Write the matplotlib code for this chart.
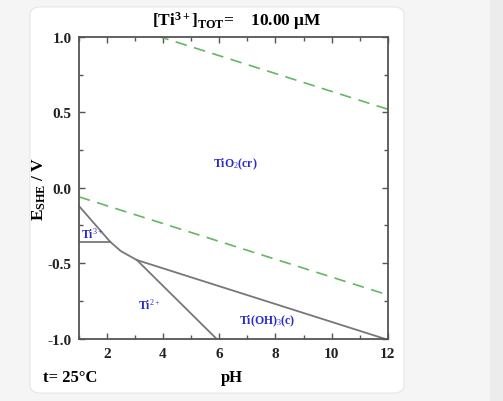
import matplotlib
matplotlib.use("Agg")
import matplotlib.pyplot as plt
from matplotlib.patches import FancyBboxPatch, Rectangle
import numpy as np

plt.rcParams['font.family'] = ['Liberation Serif', 'DejaVu Serif']
plt.rcParams['mathtext.fontset'] = 'custom'
plt.rcParams['mathtext.rm'] = 'Liberation Serif'
plt.rcParams['mathtext.it'] = 'Liberation Serif:italic'
plt.rcParams['mathtext.bf'] = 'Liberation Serif:bold'

# boundary lines (pH, E in V)
ti3_ti2_ph = [1.0, 2.12]
ti3_ti2_e = [-0.358, -0.358]
tio2_ti3_ph = [1.0, 2.12]
tio2_ti3_e = [-0.119, -0.358]
tio2_ti2_ph = [2.12, 2.5, 3.07]
tio2_ti2_e = [-0.358, -0.42, -0.479]
ti2_tioh3_ph = [3.07, 5.9]
ti2_tioh3_e = [-0.479, -1.0]
tio2_tioh3_ph = [3.07, 11.88]
tio2_tioh3_e = [-0.479, -1.0]

# water stability lines
o2_ph = [3.8, 12.0]
o2_e = [1.005, 0.52]
h2_ph = [1.0, 12.0]
h2_e = [-0.06, -0.71]

labels = ["TiO$_2$(cr)", "Ti$^{3+}$", "Ti$^{2+}$", "Ti(OH)$_3$(c)"]
label_ph = [6.56, 1.5, 3.5, 7.7]
label_e = [0.16, -0.30, -0.77, -0.875]

fig = plt.figure(figsize=(5.03, 4.02), dpi=100)
fig.patch.set_facecolor('#f5f5f5')
fig.patches.append(Rectangle((490/503, 0), 13/503, 1, transform=fig.transFigure,
                             facecolor='#ececec', edgecolor='none', zorder=-2))
card = FancyBboxPatch((30/503, 8/402), 374/503, 386/402,
                      boxstyle="round,pad=0,rounding_size=0.02",
                      transform=fig.transFigure, facecolor='white',
                      edgecolor='#e6e6e6', linewidth=0.8, zorder=-1)
fig.patches.append(card)

ax = fig.add_axes([0.1565, 0.155, 0.6145, 0.751])
ax.set_facecolor('white')

grey = '#777777'
for px, ey in [(ti3_ti2_ph, ti3_ti2_e), (tio2_ti3_ph, tio2_ti3_e),
               (tio2_ti2_ph, tio2_ti2_e), (ti2_tioh3_ph, ti2_tioh3_e),
               (tio2_tioh3_ph, tio2_tioh3_e)]:
    ax.plot(px, ey, color=grey, lw=1.3)

green = '#62b862'
ax.plot(o2_ph, o2_e, color=green, lw=1.2, dashes=(7, 4.5))
ax.plot(h2_ph, h2_e, color=green, lw=1.2, dashes=(7, 4.5))

for txt, x, y in zip(labels, label_ph, label_e):
    ax.text(x, y, txt, color='#2a2acc', fontsize=8.5, ha='center', va='center',
            fontweight='bold')

ax.set_xlim(1, 12)
ax.set_ylim(-1, 1)
ax.set_xticks([2, 4, 6, 8, 10, 12])
ax.set_xticks(np.arange(1, 13), minor=True)
ax.set_yticks([-1.0, -0.5, 0.0, 0.5, 1.0])
ax.set_yticklabels(['-1.0', '-0.5', '0.0', '0.5', '1.0'])
ax.set_yticks(np.arange(-1, 1.01, 0.25), minor=True)
ax.tick_params(which='both', direction='in', top=True, right=True,
               color='#555555', labelsize=11, labelcolor='#222222')
ax.tick_params(which='major', length=4, width=1)
ax.tick_params(which='minor', length=3, width=1)
ax.tick_params(axis='x', pad=6)
ax.tick_params(axis='y', pad=5)
for lab in ax.get_xticklabels() + ax.get_yticklabels():
    lab.set_fontweight('bold')
for s in ax.spines.values():
    s.set_color('#555555')
    s.set_linewidth(1.3)

ax.set_ylabel('E$_{\\mathbf{SHE}}$ / V', fontsize=12.5, labelpad=0, fontweight='bold')
fig.text(237/503, 1 - 21/402, '[Ti$^{\\mathbf{3+}}$]$_{\\mathbf{TOT}}$=    10.00 $\\mathbf{\\mu}$M',
         ha='center', va='center', fontsize=12.5, fontweight='bold')
fig.text(70/503, 1 - 378/402, 't= 25°C', ha='center', va='center', fontsize=12,
         fontweight='bold')
fig.text(232/503, 1 - 378/402, 'pH', ha='center', va='center', fontsize=12,
         fontweight='bold')

fig.savefig('out.png', dpi=100, facecolor=fig.get_facecolor())
